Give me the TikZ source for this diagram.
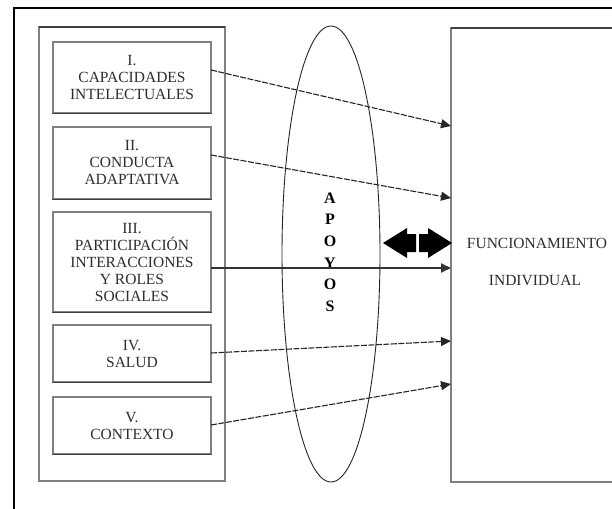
\documentclass[tikz,border=0pt]{standalone}
\usepackage{fontspec}
\setmainfont{Liberation Serif}
\usetikzlibrary{arrows.meta,shapes.geometric}
\definecolor{txtgray}{HTML}{2E2E2E}
\definecolor{boxgray}{HTML}{808080}
\definecolor{darkedge}{HTML}{404040}
\begin{document}
\begin{tikzpicture}[x=1pt,y=-1pt,
  factor/.style={draw=boxgray,line width=1.3pt,minimum width=158pt,inner sep=0pt,
    text=txtgray,align=center,font=\fontsize{15.5}{17}\selectfont},
  dasharrow/.style={draw=black!85,line width=1.1pt,dash pattern=on 6pt off 1.5pt,
    -{Triangle[length=10pt,width=9pt]}},
  solidarrow/.style={draw=black!80,line width=2pt,-{Triangle[length=10pt,width=9pt]}},
  label/.style={text=txtgray,font=\fontsize{15.5}{17}\selectfont}]
\useasboundingbox (0,0) rectangle (612,508);
\fill[white] (0,0) rectangle (612,508);
% outer frame (top and left edges)
\draw[line width=1.5pt] (620,8) -- (14,8) -- (14,520);
% left panel
\draw[boxgray,line width=1.5pt] (39,27) rectangle (225,481);
\draw[darkedge,line width=1.5pt] (39,27) -- (225,27);
% factor boxes
\node[factor,minimum height=71pt] (b1) at (132,77.5) {I.\\CAPACIDADES\\INTELECTUALES};
\node[factor,minimum height=72pt] (b2) at (132,163) {II.\\CONDUCTA\\ADAPTATIVA};
\node[factor,minimum height=100pt] (b3) at (132,262) {III.\\PARTICIPACIÓN\\INTERACCIONES\\Y ROLES\\SOCIALES};
\node[factor,minimum height=57pt] (b4) at (132,353.5) {IV.\\SALUD};
\node[factor,minimum height=57pt] (b5) at (132,425.5) {V.\\CONTEXTO};
\foreach \b in {b1,b2,b3,b4,b5}{\draw[darkedge,line width=1.3pt] (\b.south west) -- (\b.south east);}
% ellipse of supports
\node[draw=black!85,line width=0.9pt,ellipse,minimum width=98pt,minimum height=456pt,inner sep=0pt] (ap) at (331,254) {};
\node[font=\bfseries\fontsize{16}{21.6}\selectfont,align=center,inner sep=0pt] (apt) at (330,252) {A\\P\\O\\Y\\O\\S};
% right box
\draw[boxgray,line width=1.5pt] (640,28) -- (451,28) -- (451,482) -- (640,482);
\draw[darkedge,line width=1.5pt] (451,28) -- (640,28);
\coordinate (fr) at (451,254);
\node[label] (fun) at (537,243) {FUNCIONAMIENTO};
\node[label] (ind) at (535,280) {INDIVIDUAL};
% arrow end points
\coordinate (s1) at (211,70);  \coordinate (e1) at (451,126);
\coordinate (s2) at (211,155); \coordinate (e2) at (451,198);
\coordinate (s3) at (211,268); \coordinate (e3) at (451,268);
\coordinate (s4) at (211,353); \coordinate (e4) at (451,341);
\coordinate (s5) at (211,425); \coordinate (e5) at (451,384);
\draw[dasharrow] (s1) -- (e1);
\draw[dasharrow] (s2) -- (e2);
\draw[solidarrow] (s3) -- (e3);
\draw[dasharrow] (s4) -- (e4);
\draw[dasharrow] (s5) -- (e5);
% double arrow
\fill[black] (383,243) -- (407,228) -- (407,234) -- (416,234) -- (416,252) -- (407,252) -- (407,258) -- cycle;
\fill[black] (452,243) -- (428,228) -- (428,234) -- (419,234) -- (419,252) -- (428,252) -- (428,258) -- cycle;
\end{tikzpicture}
\end{document}
